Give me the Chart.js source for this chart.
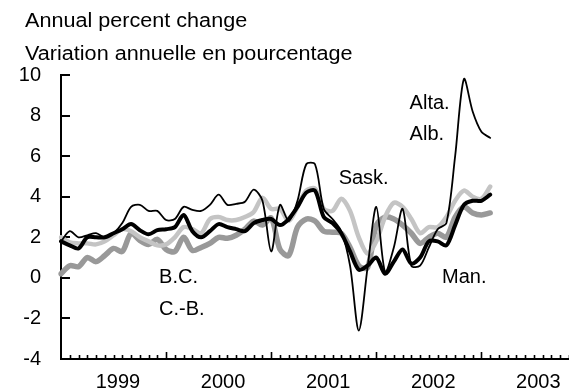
<!DOCTYPE html>
<html>
<head>
<meta charset="utf-8">
<script src="https://cdn.jsdelivr.net/npm/chart.js@4/dist/chart.umd.min.js"></script>
<style>
  html, body { margin: 0; padding: 0; background: #ffffff; }
  #wrap { width: 569px; height: 392px; position: relative; }
</style>
</head>
<body>
<div id="wrap"><canvas id="chart" width="569" height="392"></canvas></div>
<script>
// Monthly categories, January 1999 through November 2003
const years = ['1999', '2000', '2001', '2002', '2003'];
const monthNames = ['Jan', 'Feb', 'Mar', 'Apr', 'May', 'Jun', 'Jul', 'Aug', 'Sep', 'Oct', 'Nov', 'Dec'];
const months = [];
years.forEach(y => monthNames.forEach(m => months.push(m + ' ' + y)));
months.length = 59;

// Year labels shown under the axis, one per calendar year
const yearLabels = ['1999', '2000', '2001', '2002', '2003'];

// Y-axis range and step (annual percent change)
const yTicks = [-4, -2, 0, 2, 4, 6, 8, 10];

// CPI, annual percent change, by province (Jan 1999 - Feb 2003)
const alberta = [
  1.8, 2.3, 2.0, 2.1, 2.2, 2.0, 2.2, 2.7, 3.5, 3.6, 3.3, 3.3,
  2.85, 2.9, 3.5, 3.35, 3.3, 3.6, 4.1, 3.6, 3.65, 3.75, 4.35, 3.8,
  1.3, 3.6, 2.8, 3.8, 5.6, 5.6, 3.4, 2.9, 2.3, 0.6, -2.6, 0.5,
  3.5, 0.3, 1.5, 3.4, 0.6, 0.6, 1.5, 2.4, 2.7, 6.0, 9.8, 8.2,
  7.2, 6.9
];
const manitoba = [
  1.8, 1.6, 1.45, 2.0, 2.0, 2.0, 2.2, 2.4, 2.65, 2.35, 2.15, 2.35,
  2.4, 2.5, 3.1, 2.3, 2.0, 2.3, 2.65, 2.5, 2.4, 2.3, 2.7, 2.85,
  2.9, 2.6, 2.9, 3.5, 4.2, 4.3, 3.0, 2.7, 2.2, 1.3, 0.4, 0.6,
  1.0, 0.2, 0.8, 1.4, 0.7, 1.0, 1.8, 1.8, 1.6, 2.6, 3.6, 3.8,
  3.8, 4.1
];
const saskatchewan = [
  2.0, 1.75, 1.7, 1.7, 1.65, 1.8, 2.1, 2.4, 2.3, 2.0, 1.8, 1.6,
  1.65, 2.0, 2.5, 2.4, 2.2, 2.9, 3.0, 2.85, 2.85, 3.0, 3.25, 3.95,
  3.4, 3.4, 2.8, 3.5, 4.3, 4.4, 3.4, 3.3, 3.9, 3.3, 2.0, 1.2,
  1.8, 3.0, 3.7, 3.5, 2.9, 2.2, 2.5, 2.5, 3.0, 3.8, 4.3, 4.0,
  3.9, 4.5
];
const britishColumbia = [
  0.2, 0.6, 0.55, 1.0, 0.8, 1.1, 1.45, 1.3, 2.2, 1.85, 1.65, 1.9,
  1.4, 1.3, 2.0, 1.35, 1.5, 1.7, 2.0, 1.95, 2.1, 2.4, 2.8, 2.6,
  2.95, 1.4, 1.1, 2.5, 2.9, 2.8, 2.3, 2.25, 2.2, 1.5, 0.6, 0.5,
  2.6, 3.0, 2.9, 2.6, 2.2, 1.7, 2.0, 2.2, 2.0, 3.0, 3.5, 3.2,
  3.1, 3.2
];

const FONT = "'Liberation Sans', Arial, Helvetica, sans-serif";

// Inward tick marks on both axes: monthly ticks with taller ones at each January
const axisTicks = {
  id: 'axisTicks',
  beforeDatasetsDraw(chart) {
    const { ctx, chartArea, scales } = chart;
    ctx.save();
    ctx.strokeStyle = '#000';
    ctx.lineWidth = 2;
    yTicks.forEach(v => {
      const y = Math.round(scales.y.getPixelForValue(v));
      ctx.beginPath();
      ctx.moveTo(chartArea.left, y);
      ctx.lineTo(chartArea.left + 9, y);
      ctx.stroke();
    });
    ctx.lineWidth = 1.6;
    for (let i = 1; i < months.length; i++) {
      const x = Math.round(scales.x.getPixelForValue(i)) + 0.5;
      const h = (i % 12 === 0) ? 7 : 4;
      ctx.beginPath();
      ctx.moveTo(x, chartArea.bottom);
      ctx.lineTo(x, chartArea.bottom - h);
      ctx.stroke();
    }
    ctx.restore();
  }
};

// Axis title and province labels
const notes = [
  { text: 'Alta.', idx: 39.8, val: 8.6 },
  { text: 'Alb.', idx: 39.8, val: 7.05 },
  { text: 'Sask.', idx: 31.7, val: 4.88 },
  { text: 'B.C.', idx: 11.2, val: 0.0 },
  { text: 'C.-B.', idx: 11.2, val: -1.58 },
  { text: 'Man.', idx: 43.5, val: 0.02 }
];
const titleLines = ['Annual percent change', 'Variation annuelle en pourcentage'];

const textLayer = {
  id: 'textLayer',
  afterDraw(chart) {
    const { ctx, scales } = chart;
    ctx.save();
    ctx.fillStyle = '#000';
    ctx.font = '20px ' + FONT;
    ctx.textAlign = 'left';
    ctx.textBaseline = 'alphabetic';
    // the heading is set slightly wide
    ctx.save();
    ctx.translate(25, 0);
    ctx.scale(1.08, 1);
    ctx.fillText(titleLines[0], 0, 27);
    ctx.fillText(titleLines[1], 0, 60);
    ctx.restore();
    ctx.textBaseline = 'middle';
    notes.forEach(n => {
      const x = scales.x.left + n.idx * (scales.x.width / (months.length - 1));
      const y = scales.y.getPixelForValue(n.val);
      ctx.fillText(n.text, x, y);
    });
    ctx.restore();
  }
};

const line = (label, data, color, width) => ({
  label, data,
  borderColor: color,
  borderWidth: width,
  backgroundColor: color,
  pointRadius: 0,
  tension: 0.3,
  borderJoinStyle: 'round',
  borderCapStyle: 'round',
  fill: false
});

new Chart(document.getElementById('chart'), {
  type: 'line',
  data: {
    labels: months,
    datasets: [
      line('Alta.', alberta, '#000000', 1.8),
      line('Man.', manitoba, '#000000', 4),
      line('Sask.', saskatchewan, '#c4c4c4', 4.5),
      line('B.C.', britishColumbia, '#999999', 5.5)
    ]
  },
  options: {
    responsive: false,
    animation: false,
    devicePixelRatio: 1,
    layout: { padding: { top: 75, left: 0, right: 0, bottom: 0 } },
    plugins: { legend: { display: false }, tooltip: { enabled: false }, title: { display: false } },
    scales: {
      x: {
        type: 'category',
        offset: false,
        grid: { display: false },
        border: { display: true, color: '#000', width: 2 },
        ticks: {
          autoSkip: false, maxRotation: 0, minRotation: 0,
          padding: 3, labelOffset: 4.4, color: '#000',
          font: { family: FONT, size: 20 },
          callback: (v, i) => (i % 12 === 6 ? yearLabels[Math.floor(i / 12)] : '')
        },
        afterFit: s => { s.height = 33; s.paddingLeft = 0; s.paddingRight = 0; }
      },
      y: {
        min: -4, max: 10,
        grid: { display: false },
        border: { display: true, color: '#000', width: 2 },
        ticks: { stepSize: 2, padding: 12, color: '#000', font: { family: FONT, size: 20 } },
        afterFit: s => { s.width = 61; }
      }
    }
  },
  plugins: [axisTicks, textLayer]
});
</script>
</body>
</html>
